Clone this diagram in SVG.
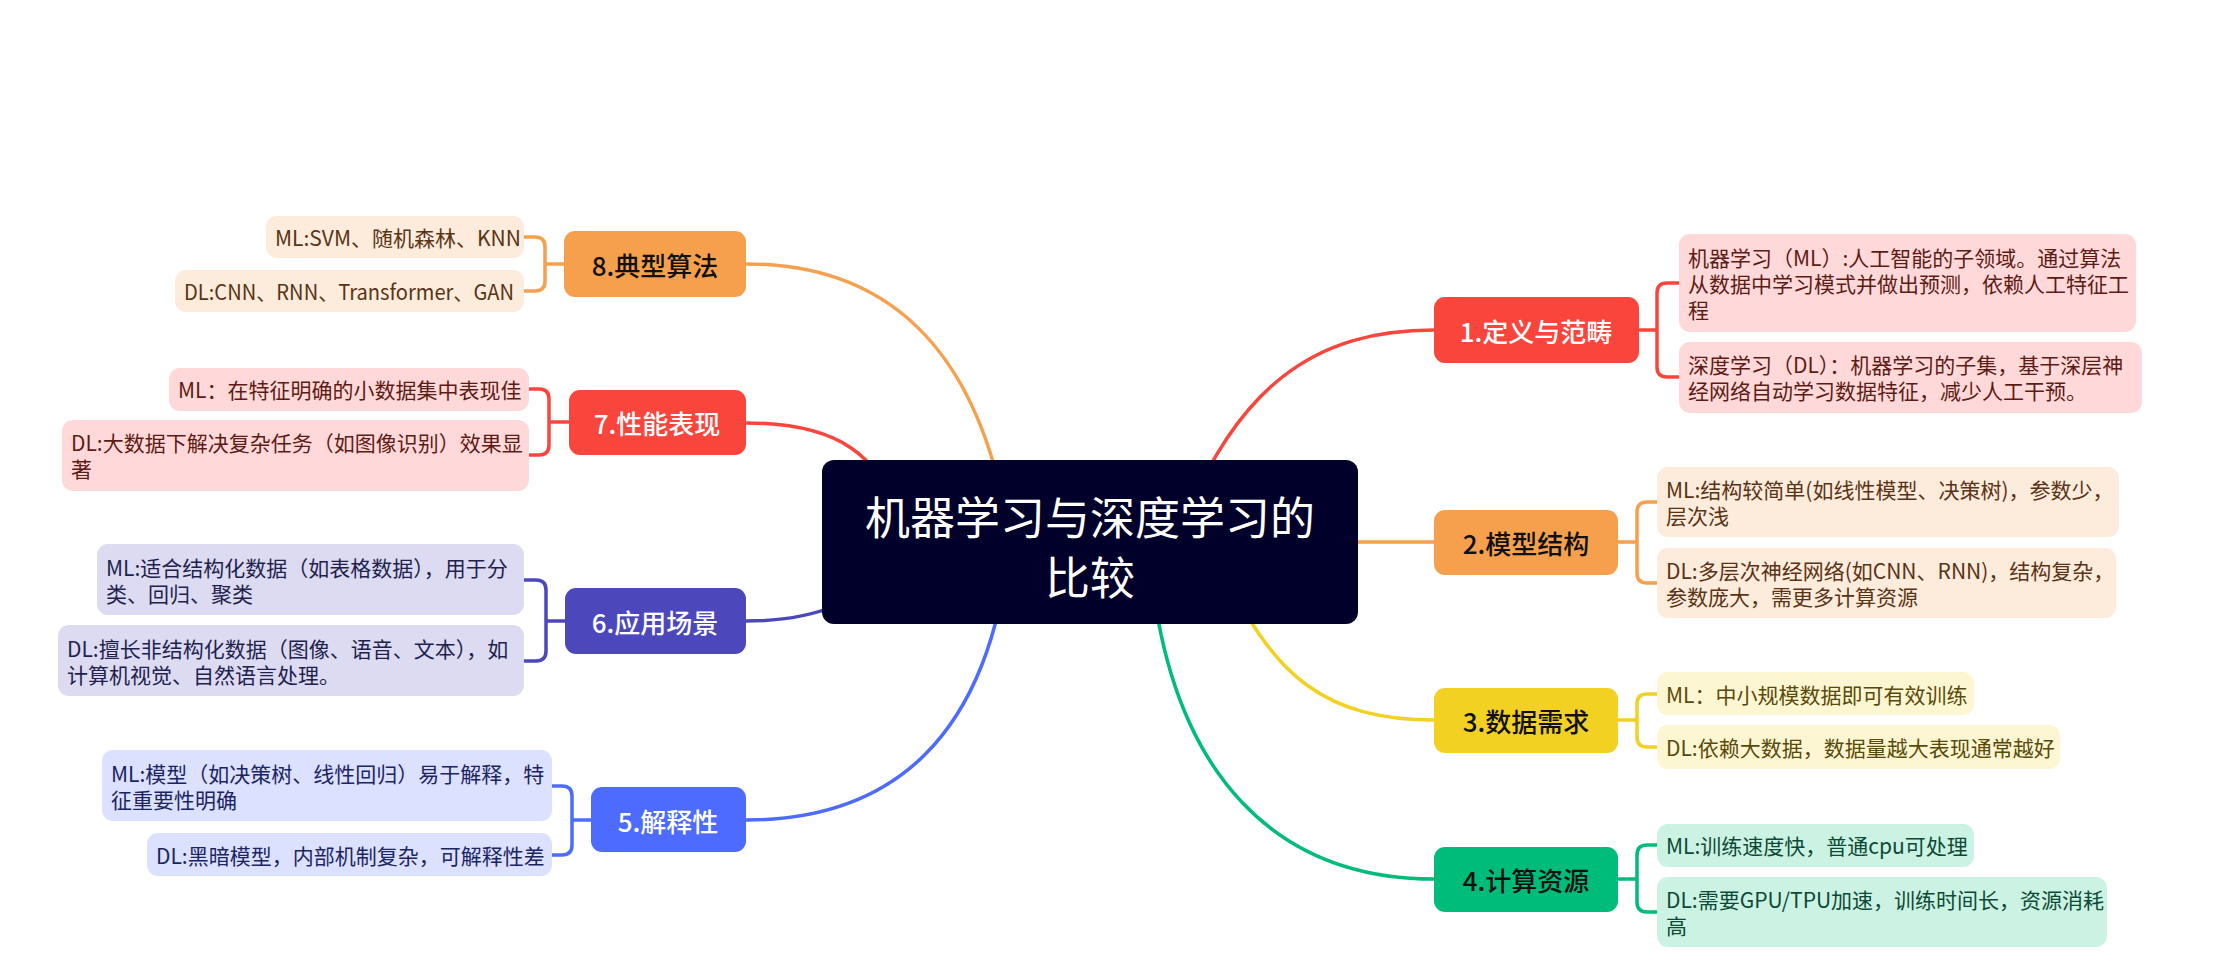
<svg xmlns="http://www.w3.org/2000/svg" width="2239" height="960" viewBox="0 0 2239 960">
<style>
text{font-family:"Noto Sans CJK SC","Noto Sans",sans-serif;}
.link{fill:none;stroke-width:3.5;stroke-linecap:round;}
.node{stroke:none;}
.nt{font-size:26px;text-anchor:middle;dominant-baseline:central;font-weight:500;}
.ct{font-size:21px;dominant-baseline:central;}
.red{stroke:#FA453D;}
.org{stroke:#F6A04D;}
.yel{stroke:#F2D122;}
.grn{stroke:#00BC7A;}
.ind{stroke:#4C48BC;}
.blu{stroke:#4D6BFE;}
</style>
<rect width="2239" height="960" fill="#FFFFFF"/>
<g id="connectors">
<path class="link red" d="M1170,560 C1230,380 1320,330 1434,330"/>
<path class="link org" d="M1300,542 H1434"/>
<path class="link yel" d="M1220,560 C1270,680 1330,720 1434,720"/>
<path class="link grn" d="M1150,560 C1170,780 1280,879 1434,879"/>
<path class="link org" d="M1010,540 C980,340 880,264 746,264"/>
<path class="link red" d="M900,540 C890,450 830,423 746,423"/>
<path class="link ind" d="M900,560 C860,600 820,621 746,621"/>
<path class="link blu" d="M1010,540 C990,740 890,820 746,820"/>
<path class="link red" d="M1639,330 H1657 M1680,283 H1667 Q1657,283 1657,293 V367 Q1657,377 1667,377 H1680"/>
<path class="link org" d="M1618,542 H1637 M1657,502 H1647 Q1637,502 1637,512 V573 Q1637,583 1647,583 H1657"/>
<path class="link yel" d="M1618,720 H1637 M1657,694 H1647 Q1637,694 1637,704 V737 Q1637,747 1647,747 H1657"/>
<path class="link grn" d="M1618,879 H1637 M1657,845 H1647 Q1637,845 1637,855 V902 Q1637,912 1647,912 H1657"/>
<path class="link org" d="M564,264 H545 M524,237 H535 Q545,237 545,247 V281 Q545,291 535,291 H524"/>
<path class="link red" d="M569,422 H549 M529,389 H539 Q549,389 549,399 V445 Q549,455 539,455 H529"/>
<path class="link ind" d="M565,621 H546 M524,580 H536 Q546,580 546,590 V651 Q546,661 536,661 H524"/>
<path class="link blu" d="M591,820 H572 M552,786 H562 Q572,786 572,796 V845 Q572,855 562,855 H552"/>
</g>
<g id="central">
<rect x="822" y="460" width="536" height="164" rx="12" fill="#00002A"/>
<text x="1090" y="515" fill="#FFFFFF" font-size="45" text-anchor="middle" dominant-baseline="central">机器学习与深度学习的</text>
<text x="1090" y="575" fill="#FFFFFF" font-size="45" text-anchor="middle" dominant-baseline="central">比较</text>
</g>
<g id="n1">
<rect x="1434" y="297" width="205" height="66" rx="11" fill="#FA453D"/>
<text class="nt" x="1536" y="330" fill="#FFFFFF">1.定义与范畴</text>
</g>
<g id="n1a">
<rect x="1679" y="234" width="457" height="98" rx="11" fill="#FFD9D9"/>
<text class="ct" fill="#5E1B14"><tspan x="1688" y="257">机器学习（ML）:人工智能的子领域。通过算法</tspan><tspan x="1688" y="283">从数据中学习模式并做出预测，依赖人工特征工</tspan><tspan x="1688" y="309">程</tspan></text>
</g>
<g id="n1b">
<rect x="1679" y="342" width="463" height="71" rx="11" fill="#FFD9D9"/>
<text class="ct" fill="#5E1B14"><tspan x="1688" y="364">深度学习（DL）：机器学习的子集，基于深层神</tspan><tspan x="1688" y="390">经网络自动学习数据特征，减少人工干预。</tspan></text>
</g>
<g id="n2">
<rect x="1434" y="510" width="184" height="65" rx="11" fill="#F6A04D"/>
<text class="nt" x="1526" y="542" fill="#111111">2.模型结构</text>
</g>
<g id="n2a">
<rect x="1657" y="467" width="462" height="70" rx="11" fill="#FDEBDC"/>
<text class="ct" fill="#5A3314"><tspan x="1666" y="489">ML:结构较简单(如线性模型、决策树)，参数少，</tspan><tspan x="1666" y="515">层次浅</tspan></text>
</g>
<g id="n2b">
<rect x="1657" y="548" width="459" height="70" rx="11" fill="#FDEBDC"/>
<text class="ct" fill="#5A3314"><tspan x="1666" y="570">DL:多层次神经网络(如CNN、RNN)，结构复杂，</tspan><tspan x="1666" y="596">参数庞大，需更多计算资源</tspan></text>
</g>
<g id="n3">
<rect x="1434" y="688" width="184" height="65" rx="11" fill="#F2D122"/>
<text class="nt" x="1526" y="720" fill="#111111">3.数据需求</text>
</g>
<g id="n3a">
<rect x="1657" y="672" width="317" height="43" rx="11" fill="#FDF6D3"/>
<text class="ct" x="1666" y="694" fill="#5A4A08">ML：中小规模数据即可有效训练</text>
</g>
<g id="n3b">
<rect x="1657" y="725" width="403" height="44" rx="11" fill="#FDF6D3"/>
<text class="ct" x="1666" y="747" fill="#5A4A08">DL:依赖大数据，数据量越大表现通常越好</text>
</g>
<g id="n4">
<rect x="1434" y="847" width="184" height="65" rx="11" fill="#00BC7A"/>
<text class="nt" x="1526" y="879" fill="#111111">4.计算资源</text>
</g>
<g id="n4a">
<rect x="1657" y="824" width="317" height="43" rx="11" fill="#CCF2E4"/>
<text class="ct" x="1666" y="845" fill="#0B4A34">ML:训练速度快，普通cpu可处理</text>
</g>
<g id="n4b">
<rect x="1657" y="877" width="450" height="70" rx="11" fill="#CCF2E4"/>
<text class="ct" fill="#0B4A34"><tspan x="1666" y="899">DL:需要GPU/TPU加速，训练时间长，资源消耗</tspan><tspan x="1666" y="925">高</tspan></text>
</g>
<g id="n8">
<rect x="564" y="231" width="182" height="66" rx="11" fill="#F6A04D"/>
<text class="nt" x="655" y="264" fill="#111111">8.典型算法</text>
</g>
<g id="n8a">
<rect x="266" y="216" width="258" height="42" rx="11" fill="#FDEBDC"/>
<text class="ct" x="275" y="237" fill="#5A3314">ML:SVM、随机森林、KNN</text>
</g>
<g id="n8b">
<rect x="175" y="270" width="349" height="42" rx="11" fill="#FDEBDC"/>
<text class="ct" x="184" y="291" fill="#5A3314" textLength="330" lengthAdjust="spacingAndGlyphs">DL:CNN、RNN、Transformer、GAN</text>
</g>
<g id="n7">
<rect x="569" y="390" width="177" height="65" rx="11" fill="#FA453D"/>
<text class="nt" x="657" y="422" fill="#FFFFFF">7.性能表现</text>
</g>
<g id="n7a">
<rect x="169" y="368" width="360" height="43" rx="11" fill="#FFD9D9"/>
<text class="ct" x="178" y="389" fill="#5E1B14">ML：在特征明确的小数据集中表现佳</text>
</g>
<g id="n7b">
<rect x="62" y="420" width="467" height="71" rx="11" fill="#FFD9D9"/>
<text class="ct" fill="#5E1B14"><tspan x="71" y="442">DL:大数据下解决复杂任务（如图像识别）效果显</tspan><tspan x="71" y="468">著</tspan></text>
</g>
<g id="n6">
<rect x="565" y="588" width="181" height="66" rx="11" fill="#4C48BC"/>
<text class="nt" x="655" y="621" fill="#FFFFFF">6.应用场景</text>
</g>
<g id="n6a">
<rect x="97" y="544" width="427" height="71" rx="11" fill="#DCDBF1"/>
<text class="ct" fill="#221F4E"><tspan x="106" y="567">ML:适合结构化数据（如表格数据），用于分</tspan><tspan x="106" y="593">类、回归、聚类</tspan></text>
</g>
<g id="n6b">
<rect x="58" y="625" width="466" height="71" rx="11" fill="#DCDBF1"/>
<text class="ct" fill="#221F4E"><tspan x="67" y="648">DL:擅长非结构化数据（图像、语音、文本），如</tspan><tspan x="67" y="674">计算机视觉、自然语言处理。</tspan></text>
</g>
<g id="n5">
<rect x="591" y="787" width="155" height="65" rx="11" fill="#4D6BFE"/>
<text class="nt" x="668" y="820" fill="#FFFFFF">5.解释性</text>
</g>
<g id="n5a">
<rect x="102" y="750" width="450" height="71" rx="11" fill="#DBE1FF"/>
<text class="ct" fill="#1C2563"><tspan x="111" y="773">ML:模型（如决策树、线性回归）易于解释，特</tspan><tspan x="111" y="799">征重要性明确</tspan></text>
</g>
<g id="n5b">
<rect x="147" y="833" width="405" height="43" rx="11" fill="#DBE1FF"/>
<text class="ct" x="156" y="855" fill="#1C2563">DL:黑暗模型，内部机制复杂，可解释性差</text>
</g>
</svg>
